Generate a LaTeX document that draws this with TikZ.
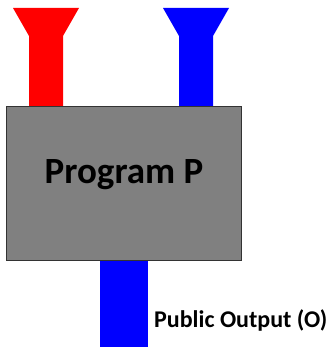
\documentclass[tikz,border=0pt]{standalone}
\usepackage{fontspec}
\setmainfont{Carlito}
\begin{document}
\begin{tikzpicture}[x=1pt,y=-1pt,
  prog/.style={draw=black!80,line width=1pt,fill=black!50},
  lbl/.style={font=\bfseries,inner sep=0pt}]
\useasboundingbox (0,0) rectangle (331,347);
% input funnels
\fill[red] (13,8) -- (79,8) -- (63,36) -- (63,107) -- (29,107) -- (29,36) -- cycle;
\fill[blue] (163,8) -- (229,8) -- (213,36) -- (213,107) -- (179,107) -- (179,36) -- cycle;
% output bar
\fill[blue] (100,259) rectangle (148,347);
% program box
\node[prog,minimum width=235pt,minimum height=154pt,anchor=north west,inner sep=0pt] (P) at (6,106) {};
\node[lbl,font=\bfseries\fontsize{37}{44}\selectfont,anchor=base] (pt) at (124,183) {Program P};
\node[lbl,font=\bfseries\fontsize{24}{29}\selectfont,anchor=base west] (out) at (154,327) {Public Output (O)};
\end{tikzpicture}
\end{document}
